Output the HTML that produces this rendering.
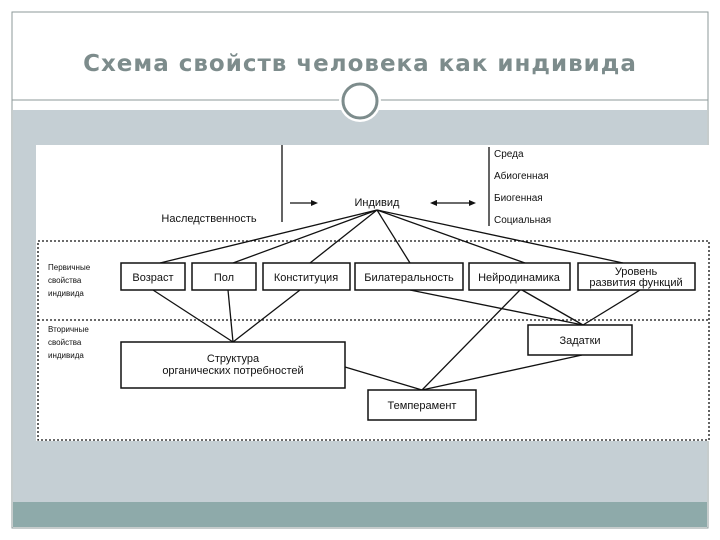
<!DOCTYPE html>
<html><head><meta charset="utf-8"><style>
body{margin:0;width:720px;height:540px;background:#fff;overflow:hidden;position:relative;font-family:"Liberation Sans","DejaVu Sans",sans-serif}
</style></head><body>
<svg width="720" height="540" style="position:absolute;left:0;top:0" font-family="Liberation Sans, DejaVu Sans, sans-serif">
<rect x="12" y="12" width="696" height="516" fill="#fff" stroke="#8d9a9a" stroke-width="1"/>
<rect x="13" y="110" width="694" height="392" fill="#c5cfd4"/>
<rect x="13" y="502" width="694" height="25" fill="#8eaaaa"/>
<line x1="12" y1="100" x2="708" y2="100" stroke="#8d9a9a" stroke-width="1"/>
<circle cx="360" cy="101" r="21" fill="#fff"/>
<circle cx="360" cy="101" r="17" fill="#fff" stroke="#7d8c8c" stroke-width="3"/>
<text x="360" y="71" text-anchor="middle" font-size="23" font-weight="bold" fill="#7d8c8c" font-family="DejaVu Sans, sans-serif" letter-spacing="1">Схема свойств человека как индивида</text>
<rect x="36" y="145" width="674" height="296" fill="#fff"/>
<g stroke="#111" fill="none" stroke-width="1.3">
<line x1="282" y1="145" x2="282" y2="222"/>
<line x1="489" y1="147" x2="489" y2="226"/>
<line x1="290" y1="203" x2="314" y2="203"/>
<line x1="434" y1="203" x2="472" y2="203"/>
<rect x="38" y="241" width="671" height="199" stroke-dasharray="2,2"/>
<line x1="38" y1="320" x2="709" y2="320" stroke-dasharray="2,2"/>
<line x1="377" y1="210" x2="160" y2="263"/>
<line x1="377" y1="210" x2="233" y2="263"/>
<line x1="377" y1="210" x2="310" y2="263"/>
<line x1="377" y1="210" x2="410" y2="263"/>
<line x1="377" y1="210" x2="525" y2="263"/>
<line x1="377" y1="210" x2="623" y2="263"/>
<line x1="153" y1="290" x2="233" y2="342"/>
<line x1="228" y1="290" x2="233" y2="342"/>
<line x1="300" y1="290" x2="233" y2="342"/>
<line x1="410" y1="290" x2="583" y2="325"/>
<line x1="522" y1="290" x2="583" y2="325"/>
<line x1="520" y1="290" x2="422" y2="390"/>
<line x1="640" y1="290" x2="583" y2="325"/>
<line x1="345" y1="367" x2="422" y2="390"/>
<line x1="582" y1="355" x2="422" y2="390"/>
</g>
<polygon points="318,203 311,200 311,206" fill="#111"/>
<polygon points="430,203 437,200 437,206" fill="#111"/>
<polygon points="476,203 469,200 469,206" fill="#111"/>
<g fill="#fff" stroke="#111" stroke-width="1.5">
<rect x="121" y="263" width="64" height="27"/>
<rect x="192" y="263" width="64" height="27"/>
<rect x="263" y="263" width="87" height="27"/>
<rect x="355" y="263" width="108" height="27"/>
<rect x="469" y="263" width="101" height="27"/>
<rect x="578" y="263" width="117" height="27"/>
<rect x="121" y="342" width="224" height="46"/>
<rect x="528" y="325" width="104" height="30"/>
<rect x="368" y="390" width="108" height="30"/>
</g>
<g fill="#111" font-size="11" text-anchor="middle">
<text x="153" y="281">Возраст</text>
<text x="224" y="281">Пол</text>
<text x="306" y="281">Конституция</text>
<text x="409" y="281">Билатеральность</text>
<text x="519" y="281">Нейродинамика</text>
<text x="636" y="275">Уровень</text>
<text x="636" y="286">развития функций</text>
<text x="233" y="362">Структура</text>
<text x="233" y="374">органических потребностей</text>
<text x="580" y="344">Задатки</text>
<text x="422" y="409">Темперамент</text>
<text x="377" y="206">Индивид</text>
<text x="209" y="222">Наследственность</text>
</g>
<g fill="#111" font-size="10">
<text x="494" y="157">Среда</text>
<text x="494" y="179">Абиогенная</text>
<text x="494" y="201">Биогенная</text>
<text x="494" y="223">Социальная</text>
</g>
<g fill="#111" font-size="8">
<text x="48" y="270">Первичные</text><text x="48" y="283">свойства</text><text x="48" y="296">индивида</text>
<text x="48" y="332">Вторичные</text><text x="48" y="345">свойства</text><text x="48" y="358">индивида</text>
</g>
</svg>
</body></html>
